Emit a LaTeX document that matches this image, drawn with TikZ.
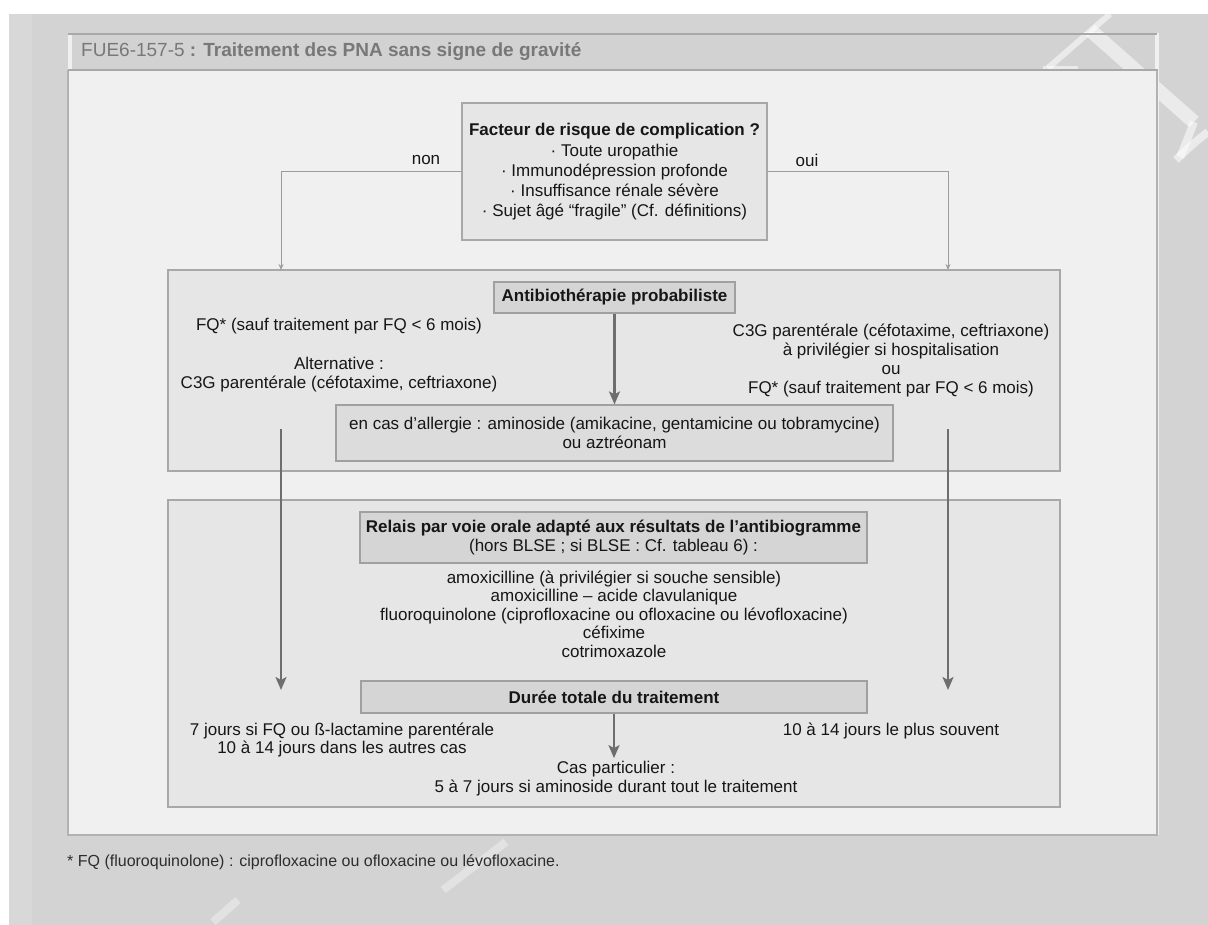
\documentclass[tikz,border=0pt]{standalone}
\usepackage{fontspec}
\setmainfont{Liberation Sans}
\usetikzlibrary{arrows.meta}
\definecolor{pagebg}{HTML}{D3D3D3}
\definecolor{pagebgb}{HTML}{D8D8D8}
\definecolor{panelbg}{HTML}{F0F0F0}
\definecolor{panelline}{HTML}{B2B2B2}
\definecolor{titlebg}{HTML}{D2D2D2}
\definecolor{titleline}{HTML}{A8A8A8}
\definecolor{titletext}{HTML}{787878}
\definecolor{boxfill}{HTML}{E6E6E6}
\definecolor{boxline}{HTML}{A8A8A8}
\definecolor{hfill}{HTML}{D5D5D5}
\definecolor{hline}{HTML}{A0A0A0}
\definecolor{afill}{HTML}{DCDCDC}
\definecolor{ink}{HTML}{161616}
\definecolor{arrc}{HTML}{6E6E6E}
\definecolor{thinc}{HTML}{9C9C9C}
\tikzset{
  bigbox/.style={draw=boxline, fill=boxfill, line width=1.2pt},
  hbox/.style={draw=hline, fill=hfill, line width=1.2pt, inner sep=0pt, text=ink, align=center, font=\fontsize{17}{18.5}\selectfont},
  txt/.style={text=ink, align=center, inner sep=0pt, font=\fontsize{17}{18.5}\selectfont},
  bigarrow/.style={draw=arrc, line width=2.2pt, -{Stealth[length=13pt,width=11pt,inset=3pt]}},
  thinarrow/.style={draw=thinc, line width=1pt, -{Stealth[length=6pt,width=5pt]}},
  wmark/.style={draw=white, opacity=0.55, line cap=butt}
}
\newcommand{\wmarkshape}{%
  \draw[wmark, line width=6pt] (1048,68) -- (1110,14);
  \draw[wmark, line width=4pt] (1043,68) -- (1078,68);
  \draw[wmark, line width=14pt] (1090,30) -- (1194,122);
  \draw[wmark, line width=8pt] (1176,160) .. controls (1190,146) and (1200,138) .. (1208,132);
  \draw[wmark, line width=8pt] (1194,122) .. controls (1189,135) and (1184,148) .. (1180,157);
}
\begin{document}
\begin{tikzpicture}[x=1pt,y=-1pt]
\useasboundingbox (0,0) rectangle (1208,925);
\fill[white] (0,0) rectangle (1208,925);
\fill[pagebg] (9,14) rectangle (1208,925);
\fill[pagebgb] (9,14) rectangle (32,925);
% watermark behind the panel
\wmarkshape
\draw[wmark, opacity=0.35, line width=8pt] (443,890) -- (506,842);
\draw[wmark, opacity=0.35, line width=8pt] (213,922) -- (238,900);
% panel
\fill[panelbg] (68,33) rectangle (1159,835);
\fill[titlebg] (72,33) rectangle (1155,70);
\begin{scope}
  \clip (72,33) rectangle (1155,70);
  \wmarkshape
\end{scope}
\draw[panelline, line width=1.5pt] (68,70) -- (68,835) -- (1157,835) -- (1157,70);
\draw[titleline, line width=2.5pt] (68,34) -- (1157,34);
\draw[titleline, line width=2.5pt] (68,70) -- (1158,70);
\node[anchor=west, font=\fontsize{19}{20}\selectfont, text=titletext, inner sep=0pt] (title) at (81,52) {FUE6-157-5\textbf{ : Traitement des PNA sans signe de gravité}};
% big boxes
\node[bigbox, minimum width=892pt, minimum height=201pt, inner sep=0pt] (mid) at (614,370.5) {};
\node[bigbox, minimum width=892pt, minimum height=307pt, inner sep=0pt] (low) at (614,653.5) {};
% top decision box
\node[hbox, fill=boxfill, draw=boxline, minimum width=305pt, minimum height=137pt, font=\fontsize{17}{20}\selectfont] (risk) at (614.5,171.5)
 {\textbf{Facteur de risque de complication ?}\\[1pt]
  · Toute uropathie\\
  · Immunodépression profonde\\
  · Insuffisance rénale sévère\\
  · Sujet âgé “fragile” (Cf. définitions)};
\node[txt] (non) at (426,160) {non};
\node[txt] (oui) at (807,160) {oui};
\coordinate (ltop) at (281,270);
\coordinate (rtop) at (948,270);
\draw[thinarrow] (risk.west) -| (ltop);
\draw[thinarrow] (risk.east) -| (rtop);
% middle box content
\node[hbox, minimum width=241pt, minimum height=31pt] (anti) at (614.5,297.5) {\textbf{Antibiothérapie probabiliste}};
\node[hbox, fill=afill, minimum width=557pt, minimum height=56pt] (allergy) at (614.5,433)
 {en cas d’allergie : aminoside (amikacine, gentamicine ou tobramycine)\\ ou aztréonam};
\node[txt] (ltxt) at (339,355) {FQ* (sauf traitement par FQ < 6 mois)\\[21pt] Alternative :\\ C3G parentérale (céfotaxime, ceftriaxone)};
\node[txt, font=\fontsize{17}{19}\selectfont] (rtxt) at (891,361) {C3G parentérale (céfotaxime, ceftriaxone)\\ à privilégier si hospitalisation\\ ou\\ FQ* (sauf traitement par FQ < 6 mois)};
\draw[bigarrow] (anti.south) -- (allergy.north);
% lower box content
\node[hbox, minimum width=507pt, minimum height=51pt] (relais) at (613.5,537.5)
 {\textbf{Relais par voie orale adapté aux résultats de l’antibiogramme}\\ (hors BLSE ; si BLSE : Cf. tableau 6) :};
\node[txt] (list) at (614,614) {amoxicilline (à privilégier si souche sensible)\\ amoxicilline – acide clavulanique\\ fluoroquinolone (ciprofloxacine ou ofloxacine ou lévofloxacine)\\ céfixime\\ cotrimoxazole};
\node[hbox, minimum width=506pt, minimum height=32pt] (duree) at (614,697) {\textbf{Durée totale du traitement}};
\node[txt] (lduree) at (342,740) {7 jours si FQ ou ß-lactamine parentérale\\ 10 à 14 jours dans les autres cas};
\node[txt] (rduree) at (891,731) {10 à 14 jours le plus souvent};
\node[txt] (cas) at (616,778.5) {Cas particulier :\\ 5 à 7 jours si aminoside durant tout le traitement};
\draw[bigarrow] (duree.south) -- ([yshift=3pt]duree.south |- cas.north);
% long arrows
\coordinate (lstart) at (281,429);
\coordinate (lend) at (281,690);
\coordinate (rstart) at (948,429);
\coordinate (rend) at (948,690);
\draw[bigarrow] (lstart) -- (lend);
\draw[bigarrow] (rstart) -- (rend);
% footnote
\node[anchor=west, text=ink!90, inner sep=0pt, font=\fontsize{16}{18}\selectfont] (foot) at (67,862) {* FQ (fluoroquinolone) : ciprofloxacine ou ofloxacine ou lévofloxacine.};
\end{tikzpicture}
\end{document}
